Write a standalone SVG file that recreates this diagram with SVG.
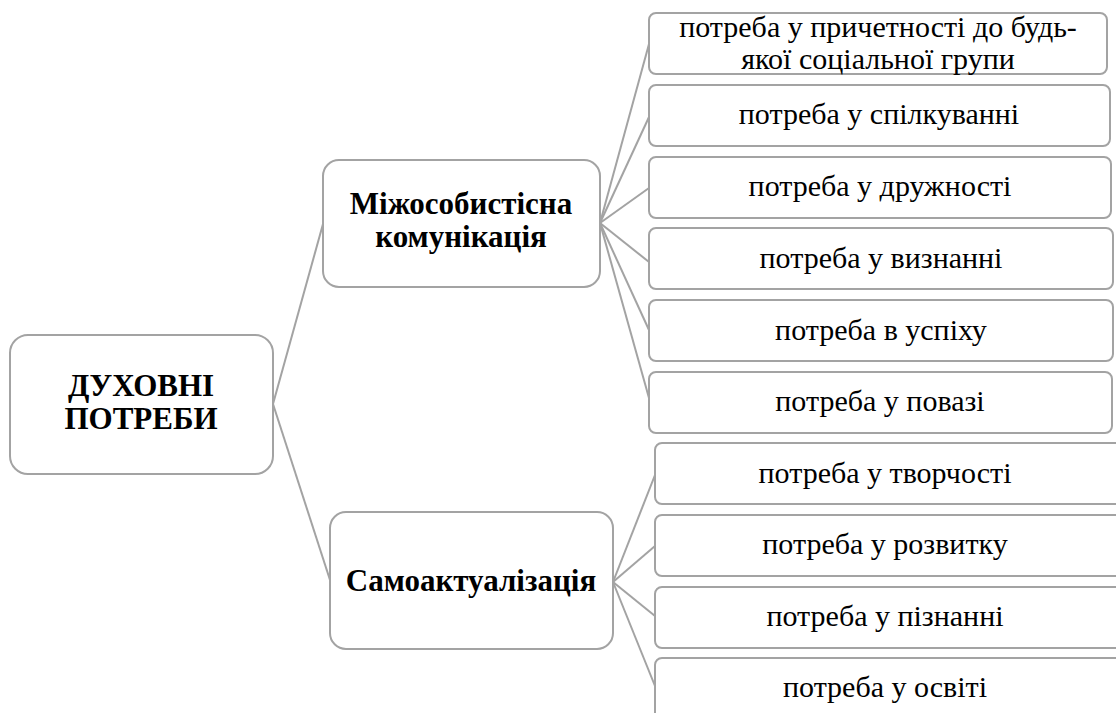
<svg xmlns="http://www.w3.org/2000/svg" width="1116" height="713" viewBox="0 0 1116 713">
<style>
.box{fill:#fff;stroke:#a3a3a3;stroke-width:2}
.conn line{stroke:#a3a3a3;stroke-width:2}
</style>
<rect width="1116" height="713" fill="#fff"/>
<g id="connectors" class="conn">
<line x1="273" y1="404" x2="323" y2="224"/>
<line x1="273" y1="404" x2="330" y2="580"/>
<line x1="600" y1="223" x2="649" y2="44"/>
<line x1="600" y1="223" x2="649" y2="117"/>
<line x1="600" y1="223" x2="649" y2="188"/>
<line x1="600" y1="223" x2="649" y2="262"/>
<line x1="600" y1="223" x2="649" y2="330"/>
<line x1="600" y1="223" x2="649" y2="398"/>
<line x1="613" y1="582" x2="655" y2="475"/>
<line x1="613" y1="582" x2="655" y2="546"/>
<line x1="613" y1="582" x2="655" y2="616"/>
<line x1="613" y1="582" x2="655" y2="686"/>
</g>
<g id="root">
<rect class="box" x="10" y="335" width="263" height="139" rx="18"/>
<text font-family="Liberation Serif" font-size="31" font-weight="bold" text-anchor="middle" x="141" y="396">ДУХОВНІ</text>
<text font-family="Liberation Serif" font-size="31" font-weight="bold" text-anchor="middle" x="141" y="429">ПОТРЕБИ</text>
</g>
<g id="n1">
<rect class="box" x="323" y="160" width="277" height="127" rx="16"/>
<text font-family="Liberation Serif" font-size="31" font-weight="bold" text-anchor="middle" x="461" y="214">Міжособистісна</text>
<text font-family="Liberation Serif" font-size="31" font-weight="bold" text-anchor="middle" x="461" y="247">комунікація</text>
</g>
<g id="n2">
<rect class="box" x="330" y="512" width="283" height="137" rx="16"/>
<text font-family="Liberation Serif" font-size="31" font-weight="bold" text-anchor="middle" x="471" y="591">Самоактуалізація</text>
</g>
<g id="l1">
<rect class="box" x="649" y="13" width="458" height="61" rx="7"/>
<text font-family="Liberation Serif" font-size="30" text-anchor="middle" x="878" y="37">потреба у причетності до будь-</text>
<text font-family="Liberation Serif" font-size="30" text-anchor="middle" x="878" y="69">якої соціальної групи</text>
</g>
<g id="l2">
<rect class="box" x="649" y="85" width="461" height="61" rx="7"/>
<text font-family="Liberation Serif" font-size="30" text-anchor="middle" x="879" y="124">потреба у спілкуванні</text>
</g>
<g id="l3">
<rect class="box" x="649" y="157" width="462" height="61" rx="7"/>
<text font-family="Liberation Serif" font-size="30" text-anchor="middle" x="880" y="196">потреба у дружності</text>
</g>
<g id="l4">
<rect class="box" x="649" y="228" width="464" height="61" rx="7"/>
<text font-family="Liberation Serif" font-size="30" text-anchor="middle" x="881" y="268">потреба у визнанні</text>
</g>
<g id="l5">
<rect class="box" x="649" y="300" width="464" height="61" rx="7"/>
<text font-family="Liberation Serif" font-size="30" text-anchor="middle" x="881" y="340">потреба в успіху</text>
</g>
<g id="l6">
<rect class="box" x="649" y="372" width="463" height="61" rx="7"/>
<text font-family="Liberation Serif" font-size="30" text-anchor="middle" x="880" y="411">потреба у повазі</text>
</g>
<g id="l7">
<rect class="box" x="655" y="443" width="470" height="61" rx="7"/>
<text font-family="Liberation Serif" font-size="30" text-anchor="middle" x="885" y="483">потреба у творчості</text>
</g>
<g id="l8">
<rect class="box" x="655" y="515" width="470" height="61" rx="7"/>
<text font-family="Liberation Serif" font-size="30" text-anchor="middle" x="885" y="554">потреба у розвитку</text>
</g>
<g id="l9">
<rect class="box" x="655" y="587" width="470" height="61" rx="7"/>
<text font-family="Liberation Serif" font-size="30" text-anchor="middle" x="885" y="626">потреба у пізнанні</text>
</g>
<g id="l10">
<rect class="box" x="655" y="658" width="470" height="70" rx="7"/>
<text font-family="Liberation Serif" font-size="30" text-anchor="middle" x="885" y="697">потреба у освіті</text>
</g>
</svg>
